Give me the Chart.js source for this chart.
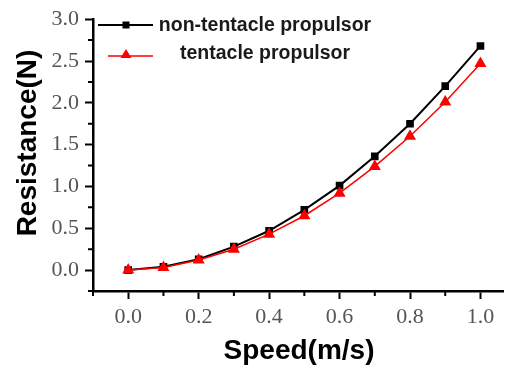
<!DOCTYPE html>
<html>
<head>
<meta charset="utf-8">
<script src="https://cdn.jsdelivr.net/npm/chart.js@4.4.1/dist/chart.umd.min.js"></script>
<style>
  html,body{margin:0;padding:0;background:#fff;}
  #wrap{width:510px;height:367px;position:relative;}
</style>
</head>
<body>
<div id="wrap"><canvas id="c"></canvas></div>
<script>
/* --- DATA --- */
const speed       = [0.0, 0.1, 0.2, 0.3, 0.4, 0.5, 0.6, 0.7, 0.8, 0.9, 1.0];
const nonTentacle = [0.0, 0.04, 0.13, 0.28, 0.47, 0.72, 1.01, 1.36, 1.75, 2.20, 2.68];
const tentacle    = [0.0, 0.03, 0.12, 0.25, 0.43, 0.65, 0.92, 1.24, 1.60, 2.01, 2.47];
const xMinor = [-0.1, 0.1, 0.3, 0.5, 0.7, 0.9];
const yMinor = [-0.25, 0.25, 0.75, 1.25, 1.75, 2.25, 2.75];
const xTitle = 'Speed(m/s)';
const yTitle = 'Resistance(N)';

const pts = arr => speed.map((x,i)=>({x:x, y:arr[i]}));

const sans = '"Liberation Sans",Arial,sans-serif';
const tickFont = {family:'"Liberation Serif","Times New Roman",serif', size:22};

/* --- minor tick marks (outside the plot) --- */
const minorTicks = {
  id:'minorTicks',
  afterDraw(chart){
    const ctx = chart.ctx, xs = chart.scales.x, ys = chart.scales.y;
    const area = chart.chartArea;
    ctx.save();
    ctx.strokeStyle = '#000';
    ctx.lineWidth = 2;
    ctx.beginPath();
    xMinor.forEach(v=>{
      const px = xs.getPixelForValue(v);
      ctx.moveTo(px, area.bottom); ctx.lineTo(px, area.bottom+5);
    });
    yMinor.forEach(v=>{
      const py = ys.getPixelForValue(v);
      ctx.moveTo(area.left, py); ctx.lineTo(area.left-5, py);
    });
    ctx.stroke();
    ctx.restore();
  }
};

/* --- axis titles --- */
const axisTitles = {
  id:'axisTitles',
  afterDraw(chart){
    const ctx = chart.ctx;
    ctx.save();
    ctx.fillStyle = '#000';
    ctx.font = 'bold 28px ' + sans;
    ctx.textAlign = 'center';
    ctx.textBaseline = 'alphabetic';
    ctx.fillText(xTitle, 299, 359);
    ctx.translate(36, 143);
    ctx.rotate(-Math.PI/2);
    ctx.fillText(yTitle, 0, 0);
    ctx.restore();
  }
};

/* --- legend drawn inside the plot, top left --- */
const insideLegend = {
  id:'insideLegend',
  afterDraw(chart){
    const ctx = chart.ctx;
    const rows = [
      {ds:chart.data.datasets[1], y:25, x0:98, ty:31},
      {ds:chart.data.datasets[0], y:56, x0:108, ty:59}
    ];
    ctx.save();
    rows.forEach(r=>{
      const c = r.ds.borderColor;
      ctx.strokeStyle = c; ctx.fillStyle = c;
      ctx.lineWidth = r.ds.borderWidth;
      ctx.beginPath(); ctx.moveTo(r.x0, r.y); ctx.lineTo(153, r.y); ctx.stroke();
      const mx = 126;
      if(r.ds.pointStyle === 'rect'){
        ctx.fillRect(mx-3.5, r.y-3.5, 7, 7);
      } else {
        ctx.beginPath();
        ctx.moveTo(mx, r.y-7); ctx.lineTo(mx+5.5, r.y+2); ctx.lineTo(mx-5.5, r.y+2);
        ctx.closePath(); ctx.fill();
      }
      ctx.fillStyle = '#1a1a1a';
      ctx.font = 'bold 19.5px ' + sans;
      ctx.textAlign = 'center';
      ctx.textBaseline = 'alphabetic';
      ctx.fillText(r.ds.label, 265, r.ty);
    });
    ctx.restore();
  }
};

new Chart(document.getElementById('c'), {
  type:'line',
  data:{datasets:[
    {label:'tentacle propulsor', data:pts(tentacle), borderColor:'#ff0000', backgroundColor:'#ff0000',
     borderWidth:1.5, pointStyle:'triangle', pointRadius:5.5, order:0},
    {label:'non-tentacle propulsor', data:pts(nonTentacle), borderColor:'#000000', backgroundColor:'#000000',
     borderWidth:2, pointStyle:'rect', pointRadius:4, order:1}
  ]},
  options:{
    responsive:true, maintainAspectRatio:false, animation:false,
    layout:{padding:{top:15, right:0, left:0, bottom:0}},
    plugins:{legend:{display:false}, tooltip:{enabled:false}},
    elements:{line:{tension:0}},
    scales:{
      x:{type:'linear', min:-0.1, max:1.064,
        afterFit(s){ s.height = 76; },
        border:{color:'#000', width:2.5},
        grid:{drawOnChartArea:false, drawTicks:true, tickLength:8, tickColor:'#000', tickWidth:2},
        ticks:{stepSize:0.2, includeBounds:false, font:tickFont, color:'#555', padding:5,
          callback:v=>Math.abs(v*5-Math.round(v*5))<1e-6 && v>=0 ? v.toFixed(1) : ''}
      },
      y:{type:'linear', min:-0.25, max:3.0,
        afterFit(s){ s.width = 93; },
        border:{color:'#000', width:2.5},
        grid:{drawOnChartArea:false, drawTicks:true, tickLength:8, tickColor:'#000', tickWidth:2},
        ticks:{stepSize:0.5, includeBounds:false, font:tickFont, color:'#555', padding:6,
          callback:v=>v>=0 ? v.toFixed(1) : ''}
      }
    }
  },
  plugins:[minorTicks, axisTitles, insideLegend]
});
</script>
</body>
</html>
